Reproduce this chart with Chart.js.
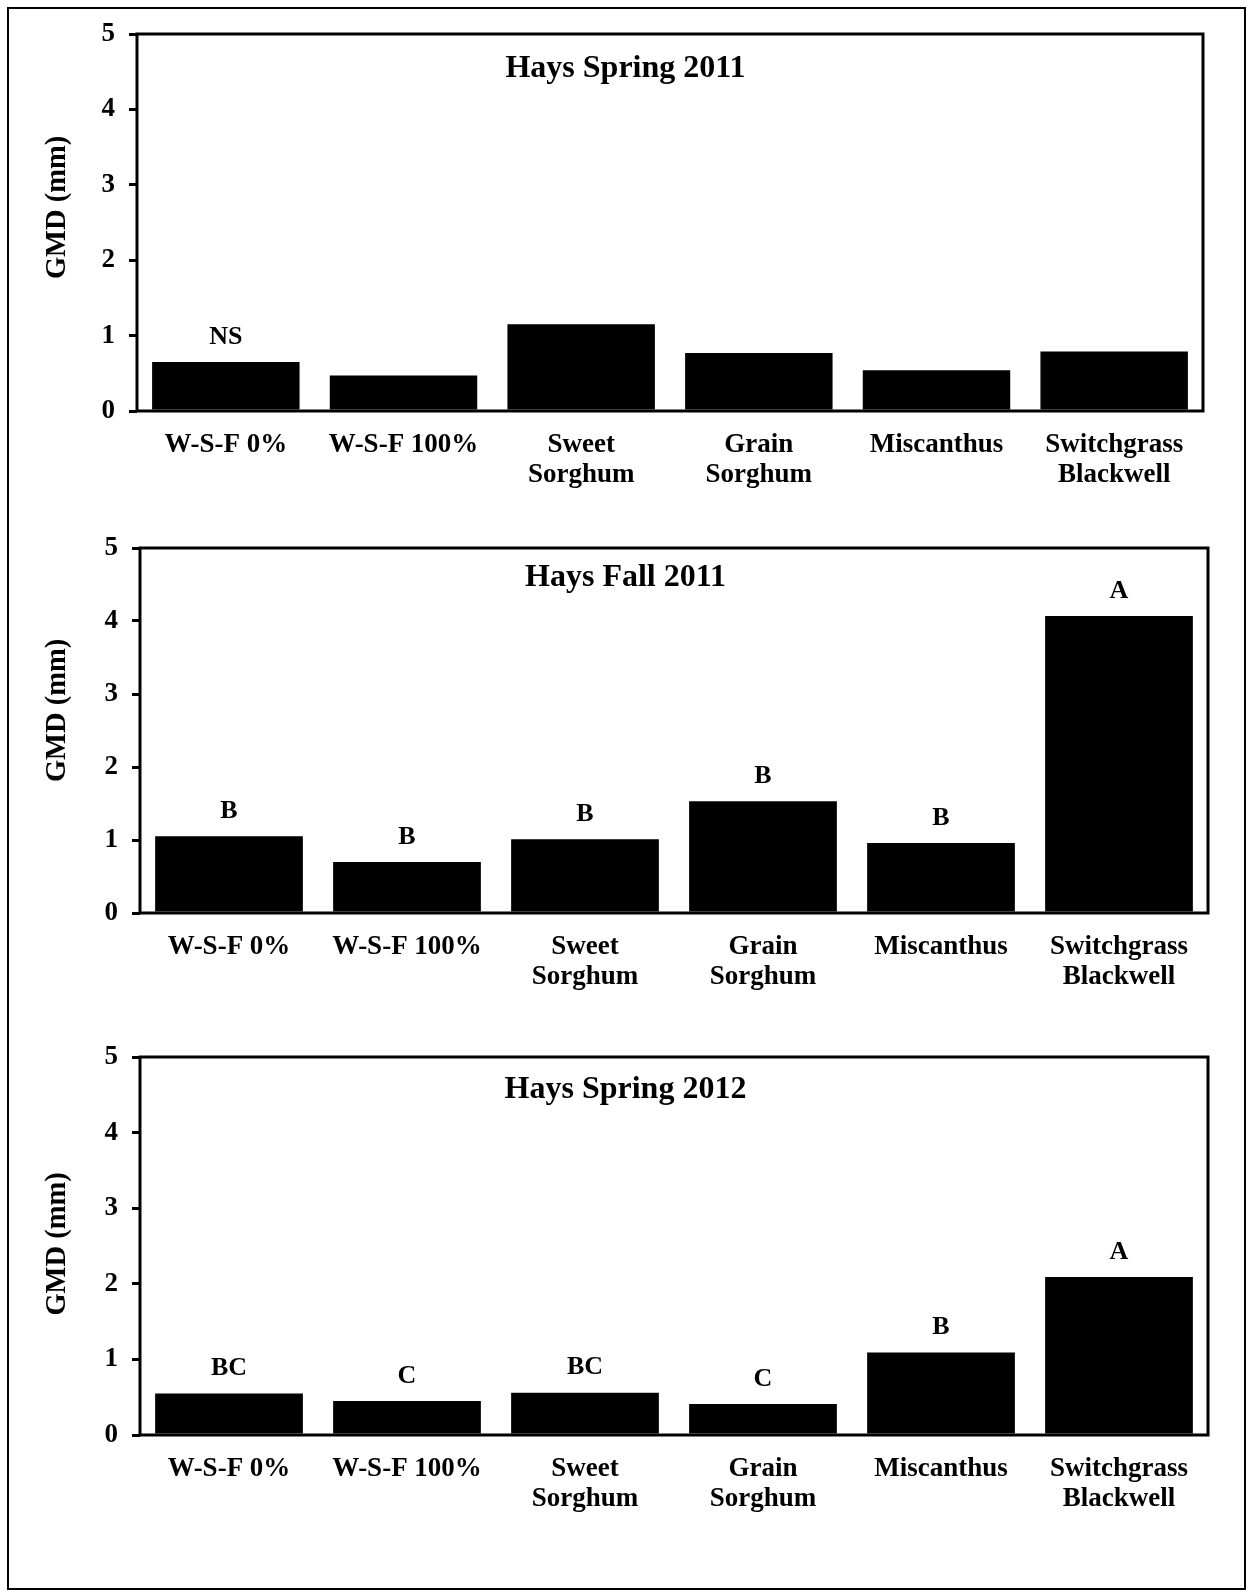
<!DOCTYPE html>
<html>
<head>
<meta charset="utf-8">
<script src="https://cdn.jsdelivr.net/npm/chart.js@4.4.1/dist/chart.umd.min.js"></script>
<style>
  html, body { margin: 0; padding: 0; background: #fff; }
  body { width: 1251px; height: 1594px; position: relative; overflow: hidden; }
  .frame { position: absolute; left: 7px; top: 7px; width: 1235px; height: 1579px; border: 2px solid #000; }
  .panel { position: absolute; left: 10px; }
</style>
</head>
<body>
<div class="frame"></div>
<canvas id="c1" class="panel" style="top:10px" width="1230" height="500"></canvas>
<canvas id="c2" class="panel" style="top:520px" width="1230" height="500"></canvas>
<canvas id="c3" class="panel" style="top:1030px" width="1230" height="540"></canvas>
<script>
/* ====== DATA ====== */
const categories = [
  ["W-S-F 0%"],
  ["W-S-F 100%"],
  ["Sweet", "Sorghum"],
  ["Grain", "Sorghum"],
  ["Miscanthus"],
  ["Switchgrass", "Blackwell"],
];
const yTicks = [0, 1, 2, 3, 4, 5];

const spring2011 = [0.65, 0.47, 1.15, 0.77, 0.54, 0.79];
const spring2011Letters = ["NS", "", "", "", "", ""];

const fall2011 = [1.05, 0.70, 1.01, 1.53, 0.96, 4.07];
const fall2011Letters = ["B", "B", "B", "B", "B", "A"];

const spring2012 = [0.55, 0.45, 0.56, 0.41, 1.09, 2.09];
const spring2012Letters = ["BC", "C", "BC", "C", "B", "A"];

const FONT = "'Liberation Serif', 'Times New Roman', serif";

/* ====== PLUGIN: frame, letters, titles ====== */
const panelText = {
  id: "panelText",
  afterDatasetsDraw(chart, args, opts) {
    const { ctx, chartArea: a } = chart;
    ctx.save();

    // box around plot
    ctx.strokeStyle = "#000";
    ctx.lineWidth = 3;
    ctx.lineJoin = "miter";
    ctx.strokeRect(a.left, a.top, a.right - a.left, a.bottom - a.top);

    // letters above bars
    ctx.fillStyle = "#000";
    ctx.textAlign = "center";
    ctx.textBaseline = "middle";
    ctx.font = "bold 26px " + FONT;
    chart.getDatasetMeta(0).data.forEach((bar, i) => {
      const t = opts.letters[i];
      if (t) ctx.fillText(t, bar.x, bar.y - 25);
    });

    // panel title
    ctx.font = "bold 32px " + FONT;
    ctx.fillText(opts.title, opts.titleX, a.top + opts.titleDy);

    // y axis title
    ctx.translate(opts.yTitleX, (a.top + a.bottom) / 2 + opts.yTitleDy);
    ctx.rotate(-Math.PI / 2);
    ctx.font = "bold 28.5px " + FONT;
    ctx.fillText("GMD (mm)", 0, 0);

    ctx.restore();
  },
};

function makeChart(id, values, letters, cfg) {
  return new Chart(document.getElementById(id), {
    type: "bar",
    data: {
      labels: categories,
      datasets: [
        {
          data: values,
          backgroundColor: "#000",
          borderWidth: 0,
          barPercentage: 0.83,
          categoryPercentage: 1,
        },
      ],
    },
    options: {
      responsive: false,
      animation: false,
      layout: { padding: { top: cfg.top, right: cfg.right, left: 0, bottom: 0 } },
      plugins: {
        legend: { display: false },
        tooltip: { enabled: false },
        panelText: {
          letters: letters,
          title: cfg.title,
          titleX: 615.5,
          titleDy: cfg.titleDy,
          yTitleX: 48,
          yTitleDy: cfg.yTitleDy,
        },
      },
      scales: {
        x: {
          grid: { display: false, drawTicks: false },
          border: { display: false },
          ticks: {
            color: "#000",
            font: { family: FONT, size: 27, weight: "bold", lineHeight: 1.11 },
            padding: cfg.labelPad,
            maxRotation: 0,
            autoSkip: false,
          },
          afterFit(s) {
            s.height = cfg.xAxisH;
            s.paddingLeft = 0;
            s.paddingRight = 0;
          },
        },
        y: {
          min: 0,
          max: 5,
          afterBuildTicks(s) {
            s.ticks = yTicks.map((v) => ({ value: v }));
          },
          grid: { drawOnChartArea: false, drawTicks: true, tickLength: 8, color: "#000", lineWidth: 3 },
          border: { display: false },
          ticks: {
            color: "#000",
            font: { family: FONT, size: 27, weight: "bold" },
            padding: 14,
          },
          afterFit(s) {
            s.width = cfg.yAxisW;
            s.paddingTop = 0;
            s.paddingBottom = 0;
          },
        },
      },
    },
    plugins: [panelText],
  });
}

makeChart("c1", spring2011, spring2011Letters, {
  title: "Hays Spring 2011", top: 24, right: 37, yAxisW: 127, xAxisH: 99,
  labelPad: 19, titleDy: 35, yTitleDy: -15,
});
makeChart("c2", fall2011, fall2011Letters, {
  title: "Hays Fall 2011", top: 28, right: 32, yAxisW: 130, xAxisH: 107,
  labelPad: 19, titleDy: 30, yTitleDy: -20,
});
makeChart("c3", spring2012, spring2012Letters, {
  title: "Hays Spring 2012", top: 27, right: 32, yAxisW: 130, xAxisH: 135,
  labelPad: 19, titleDy: 33, yTitleDy: -2,
});
</script>
</body>
</html>
